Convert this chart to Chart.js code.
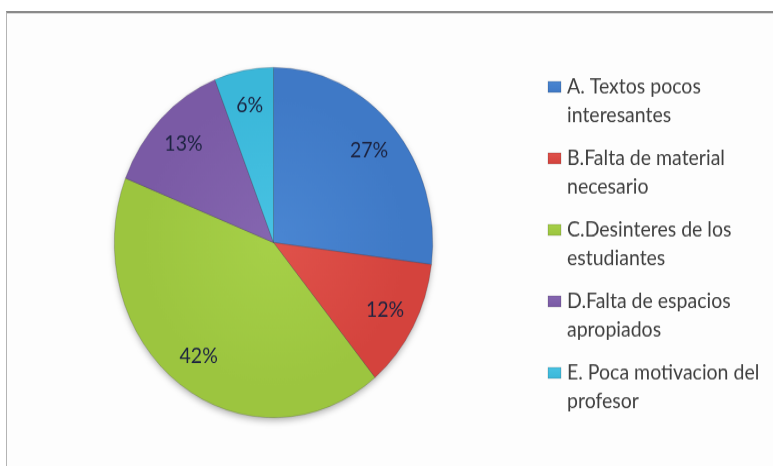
<!DOCTYPE html>
<html>
<head>
<meta charset="utf-8">
<title>Pie</title>
<script src="https://cdn.jsdelivr.net/npm/chart.js@4"></script>
<style>
    html, body { margin: 0; padding: 0; background: #ffffff; overflow: hidden; }
    #frame {
        position: absolute; left: 6px; top: 11px; width: 800px; height: 500px;
        border-top: 2px solid #8a8a8a; border-left: 1px solid #b4b4b4;
        box-shadow: inset 0 1px 0 #dadada; background: #fdfdfd;
    }
    /* the source picture is stretched vertically, so the chart is too */
    #wrap { position: absolute; left: 0; top: 0; width: 773px; height: 424px; transform: scaleY(1.1); transform-origin: 0 0; }
</style>
</head>
<body>
<div id="frame"></div>
<div id="wrap"><canvas id="pieChart" width="773" height="424"></canvas></div>
<script>
const categories = [
    'A. Textos pocos interesantes',
    'B.Falta de material necesario',
    'C.Desinteres de los estudiantes',
    'D.Falta de espacios apropiados',
    'E. Poca motivacion del profesor'
];
const values = [27, 12, 42, 13, 6];
const colors = ['#3f79c6', '#d4433d', '#9cc53f', '#7a5aa5', '#3ab7d9'];
const lightColors = ['#4a86d2', '#e0524b', '#a6d048', '#8566b0', '#48c3e3'];

const FONT = 'Lato, "Open Sans", sans-serif';

function wrapText(ctx, text, maxWidth) {
    const words = text.split(' ');
    let lines = [];
    let line = '';
    for (let i = 0; i < words.length; i++) {
        const test = line ? line + ' ' + words[i] : words[i];
        if (ctx.measureText(test).width > maxWidth && line) {
            lines.push(line);
            line = words[i];
        } else {
            line = test;
        }
    }
    lines.push(line);
    return lines;
}

// slight shading: lighter toward the middle of the pie
function sliceFill(context) {
    const chart = context.chart;
    const area = chart.chartArea;
    if (!area) {
        return colors[context.dataIndex];
    }
    const cx = (area.left + area.right) / 2;
    const cy = (area.top + area.bottom) / 2;
    const r = Math.min(area.right - area.left, area.bottom - area.top) / 2;
    const g = chart.ctx.createRadialGradient(cx, cy, 0, cx, cy, r);
    g.addColorStop(0, lightColors[context.dataIndex]);
    g.addColorStop(0.85, colors[context.dataIndex]);
    g.addColorStop(1, colors[context.dataIndex]);
    return g;
}

// soft shadow under the whole pie
const shadowPlugin = {
    id: 'pie_shadow',
    beforeDatasetsDraw: (chart) => {
        const arc = chart.getDatasetMeta(0).data[0];
        const ctx = chart.ctx;
        ctx.save();
        ctx.shadowColor = 'rgba(0,0,0,0.35)';
        ctx.shadowBlur = 7;
        ctx.shadowOffsetY = 3;
        ctx.fillStyle = '#888888';
        ctx.beginPath();
        ctx.arc(arc.x, arc.y, arc.outerRadius - 1, 0, Math.PI * 2);
        ctx.fill();
        ctx.restore();
    }
};

const labelPlugin = {
    id: 'pie_labels',
    afterDatasetsDraw: (chart) => {
        const ctx = chart.ctx;
        const meta = chart.getDatasetMeta(0);
        const total = values.reduce((a, b) => a + b, 0);
        ctx.save();
        ctx.font = '19.5px ' + FONT;
        ctx.fillStyle = '#1c2340';
        ctx.textAlign = 'center';
        ctx.textBaseline = 'middle';
        meta.data.forEach((arc, i) => {
            const mid = (arc.startAngle + arc.endAngle) / 2;
            const r = arc.outerRadius * 0.8;
            const pct = Math.round(values[i] / total * 100) + '%';
            ctx.fillText(pct, arc.x + Math.cos(mid) * r, arc.y + Math.sin(mid) * r);
        });
        ctx.restore();
    }
};

const legendPlugin = {
    id: 'side_legend',
    afterDraw: (chart) => {
        const ctx = chart.ctx;
        const left = 548, textLeft = 567, top = 79, itemGap = 65, lineHeight = 25.5;
        ctx.save();
        ctx.font = '19.5px ' + FONT;
        ctx.textBaseline = 'middle';
        categories.forEach((cat, i) => {
            const y = top + i * itemGap;
            const g = ctx.createLinearGradient(0, y - 5, 0, y + 5);
            g.addColorStop(0, lightColors[i]);
            g.addColorStop(1, colors[i]);
            ctx.fillStyle = g;
            ctx.fillRect(left, y - 5, 13, 10);
            ctx.strokeStyle = 'rgba(0,0,0,0.3)';
            ctx.lineWidth = 0.5;
            ctx.strokeRect(left, y - 5, 13, 10);
            ctx.fillStyle = '#404040';
            const lines = wrapText(ctx, cat, 200);
            lines.forEach((ln, j) => ctx.fillText(ln, textLeft, y + j * lineHeight));
        });
        ctx.restore();
    }
};

const ctx = document.getElementById('pieChart');

const myPie = new Chart(ctx, {
    type: 'pie',
    data: {
        labels: categories,
        datasets: [{
            data: values,
            backgroundColor: sliceFill,
            borderColor: 'rgba(40,40,60,0.35)',
            borderWidth: 0.6
        }]
    },
    options: {
        responsive: false,
        animation: false,
        rotation: 0,
        layout: { padding: { left: 114, right: 340, top: 61, bottom: 44 } },
        plugins: {
            legend: { display: false },
            tooltip: { enabled: false }
        }
    },
    plugins: [shadowPlugin, labelPlugin, legendPlugin]
});
</script>
</body>
</html>
